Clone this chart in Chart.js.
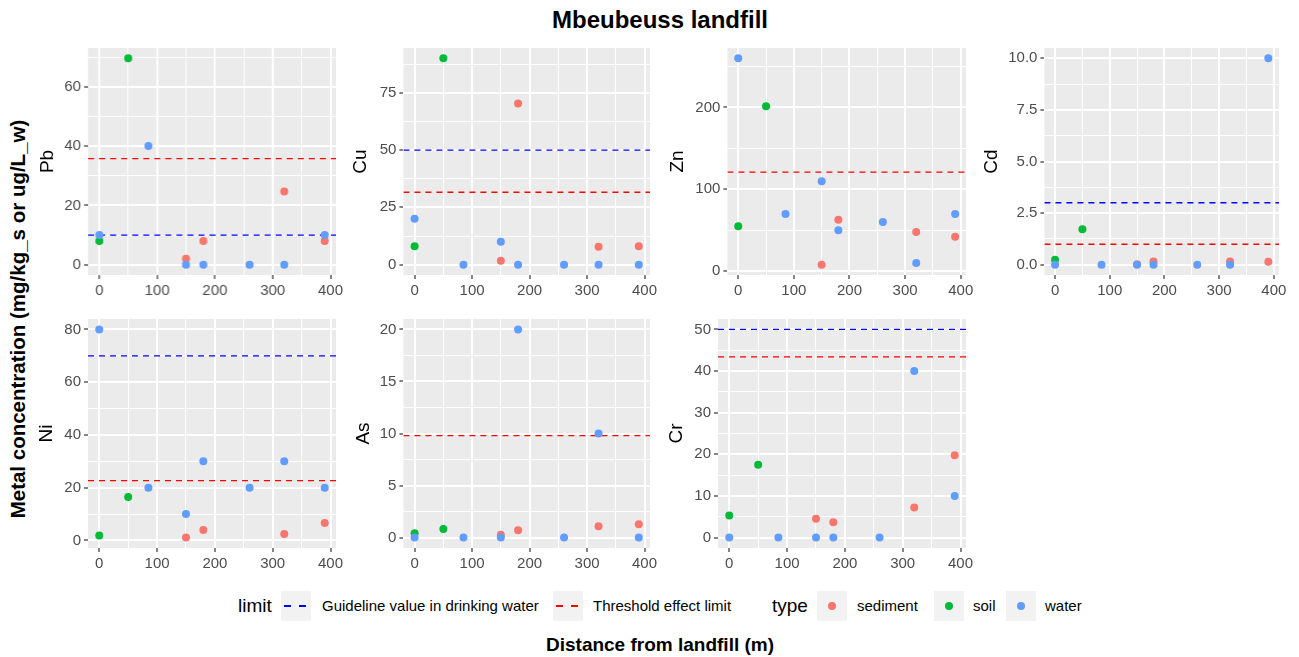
<!DOCTYPE html>
<html>
<head>
<meta charset="utf-8">
<title>Mbeubeuss landfill</title>
<script src="https://cdn.jsdelivr.net/npm/chart.js@4.4.0/dist/chart.umd.min.js"></script>
<style>
  body { margin: 0; background: #fff; font-family: 'Liberation Sans', Arial, sans-serif; }
  #fig { position: relative; width: 1299px; height: 657px; overflow: hidden; background: #fff; }
  #fig canvas { position: absolute; }
  .txt { position: absolute; white-space: nowrap; color: #000; }
  .main-title { left: 360px; width: 600px; top: 8px; text-align: center; font-size: 24px; line-height: 24px; font-weight: bold; }
  .y-title { left: -282px; top: 308px; width: 600px; text-align: center; font-size: 20.5px; line-height: 22px; font-weight: bold; transform: rotate(-90deg); }
  .x-title { left: 360px; width: 600px; top: 635px; text-align: center; font-size: 19px; line-height: 20px; font-weight: bold; }
  .leg { top: 591px; height: 30px; line-height: 30px; }
  .leg-title { font-size: 19px; }
  .leg-label { font-size: 15px; }
  .key { position: absolute; top: 591px; width: 30px; height: 30px; background: #f2f2f2; }
  .key .dash { position: absolute; top: 14px; width: 7px; height: 2px; }
  .key .dot { position: absolute; left: 11px; top: 11px; width: 8px; height: 8px; border-radius: 50%; }
</style>
</head>
<body>
<div id="fig">
  <div class="txt main-title">Mbeubeuss landfill</div>
  <div class="txt y-title">Metal concentration (mg/kg_s or ug/L_w)</div>
  <div class="txt x-title">Distance from landfill (m)</div>

  <div class="txt leg leg-title" style="left:238px">limit</div>
  <div class="key" style="left:281px">
    <div class="dash" style="left:3px;background:#0000ff"></div>
    <div class="dash" style="left:18px;background:#0000ff"></div>
  </div>
  <div class="txt leg leg-label" style="left:322px">Guideline value in drinking water</div>
  <div class="key" style="left:553px">
    <div class="dash" style="left:3px;background:#ff0000"></div>
    <div class="dash" style="left:18px;background:#ff0000"></div>
  </div>
  <div class="txt leg leg-label" style="left:593px">Threshold effect limit</div>

  <div class="txt leg leg-title" style="left:772px">type</div>
  <div class="key" style="left:817px"><div class="dot" style="background:#F8766D"></div></div>
  <div class="txt leg leg-label" style="left:857px">sediment</div>
  <div class="key" style="left:934px"><div class="dot" style="background:#00BA38"></div></div>
  <div class="txt leg leg-label" style="left:973px">soil</div>
  <div class="key" style="left:1006px"><div class="dot" style="background:#619CFF"></div></div>
  <div class="txt leg leg-label" style="left:1045px">water</div>
</div>

<script>
// sampling distances (m) for each sample type
const sedimentDist = [150, 180, 320, 390];
const soilDist     = [0, 50];
const waterDist    = [0, 85, 150, 180, 260, 320, 390];

// concentrations, one per distance above
const sediment = {
  Pb: [2, 8, 24.7, 8],
  Cu: [1.7, 70.3, 7.8, 8],
  Zn: [8, 63, 48, 42],
  Cd: [0.02, 0.15, 0.15, 0.14],
  Ni: [1.1, 4, 2.5, 6.6],
  As: [0.28, 0.7, 1.1, 1.28],
  Cr: [4.5, 3.7, 7.2, 19.8],
};
const soil = {
  Pb: [8, 69.6],
  Cu: [8, 90],
  Zn: [55, 201.6],
  Cd: [0.24, 1.72],
  Ni: [1.9, 16.5],
  As: [0.41, 0.83],
  Cr: [5.3, 17.5],
};
const water = {
  Pb: [10, 40, 0, 0, 0, 0, 10],
  Cu: [20, 0, 10, 0, 0, 0, 0],
  Zn: [260, 70, 110, 50, 60, 10, 70],
  Cd: [0, 0, 0, 0, 0, 0, 10],
  Ni: [80, 20, 10, 30, 20, 30, 20],
  As: [0, 0, 0, 20, 0, 10, 0],
  Cr: [0, 0, 0, 0, 0, 40, 10],
};

// reference limits (null = no value)
const guideline = { Pb: 10, Cu: 50, Zn: null, Cd: 3, Ni: 70, As: null, Cr: 50 };
const threshold = { Pb: 35.8, Cu: 31.6, Zn: 121, Cd: 0.99, Ni: 22.7, As: 9.79, Cr: 43.4 };

// axis breaks
const xBreaks = [0, 100, 200, 300, 400];
const yBreaks = {
  Pb: [0, 20, 40, 60],
  Cu: [0, 25, 50, 75],
  Zn: [0, 100, 200],
  Cd: [0, 2.5, 5, 7.5, 10],
  Ni: [0, 20, 40, 60, 80],
  As: [0, 5, 10, 15, 20],
  Cr: [0, 10, 20, 30, 40, 50],
};

const COLORS = { sediment: "#F8766D", soil: "#00BA38", water: "#619CFF" };

/* ── Panel placement: plot box [left, top, right, bottom] and y-title gap ── */
const PANELS = [
  { metal: "Pb", box: [88, 46, 336, 275],   gap: 40.5 },
  { metal: "Cu", box: [403, 46, 650, 275],  gap: 43 },
  { metal: "Zn", box: [727, 46, 966, 275],  gap: 50 },
  { metal: "Cd", box: [1044, 46, 1279, 275], gap: 53 },
  { metal: "Ni", box: [88, 317, 336, 548],  gap: 41.6 },
  { metal: "As", box: [403, 317, 650, 548], gap: 40 },
  { metal: "Cr", box: [718, 317, 966, 548], gap: 41.6 },
];

const PAD_T = 10, PAD_R = 14, X_AXIS_H = 30, TITLE_SIZE = 19;

Chart.defaults.font.family = "'Liberation Sans', Arial, sans-serif";

// grey panel background, like ggplot's theme_grey
const panelBg = {
  id: "panelBg",
  beforeDraw(chart) {
    const { ctx, chartArea: a } = chart;
    ctx.save();
    ctx.fillStyle = "#EBEBEB";
    ctx.fillRect(a.left, a.top, a.right - a.left, a.bottom - a.top);
    ctx.restore();
  },
};

// ggplot-style continuous range: data range padded by 5% each side
function expandRange(vals) {
  const lo = Math.min(...vals), hi = Math.max(...vals);
  const pad = (hi - lo) * 0.05;
  return [lo - pad, hi + pad];
}

// major breaks plus the minor lines halfway between them
function withMinors(majors, min, max) {
  const step = majors[1] - majors[0];
  const all = [majors[0] - step / 2, ...majors, ...majors.map(v => v + step / 2)];
  return all.filter(v => v >= min && v <= max).sort((a, b) => a - b);
}

function gridStyle(majors) {
  const isMajor = c => c.tick && majors.includes(c.tick.value);
  return {
    color: "#FFFFFF",
    lineWidth: c => (isMajor(c) ? 2 : 1),
    drawTicks: true,
    tickLength: 4,
    tickWidth: 1.2,
    tickColor: c => (isMajor(c) ? "#333333" : "rgba(0,0,0,0)"),
  };
}

function pts(xs, ys) {
  return xs.map((x, i) => ({ x, y: ys[i] }));
}

const [xMin, xMax] = expandRange([...sedimentDist, ...soilDist, ...waterDist]);

function makePanel({ metal, box, gap }) {
  const [bl, bt, br, bb] = box;
  const yW = gap + (TITLE_SIZE * 1.2) / 2;

  const canvas = document.createElement("canvas");
  const w = yW + (br - bl) + PAD_R;
  const h = PAD_T + (bb - bt) + X_AXIS_H;
  canvas.width = w;
  canvas.height = h;
  canvas.style.left = (bl - yW) + "px";
  canvas.style.top = (bt - PAD_T) + "px";
  canvas.style.width = w + "px";
  canvas.style.height = h + "px";
  document.getElementById("fig").appendChild(canvas);

  const vals = [...sediment[metal], ...soil[metal], ...water[metal], guideline[metal], threshold[metal]]
    .filter(v => v !== null);
  const [yMin, yMax] = expandRange(vals);

  const yMaj = yBreaks[metal];
  const yStep = yMaj[1] - yMaj[0];
  const yDigits = Number.isInteger(yStep) ? 0 : 1;
  const yGrid = withMinors(yMaj, yMin, yMax);
  const xGrid = withMinors(xBreaks, xMin, xMax);

  const hline = (v, color, order) => ({
    data: [{ x: xMin, y: v }, { x: xMax, y: v }],
    showLine: true,
    borderColor: color,
    borderWidth: 1.3,
    borderDash: [6, 5],
    pointRadius: 0,
    fill: false,
    order,
  });
  const dots = (xs, ys, color, order) => ({
    data: pts(xs, ys),
    backgroundColor: color,
    borderWidth: 0,
    pointRadius: 4,
    order,
  });

  const datasets = [
    dots(waterDist, water[metal], COLORS.water, 1),
    dots(soilDist, soil[metal], COLORS.soil, 2),
    dots(sedimentDist, sediment[metal], COLORS.sediment, 3),
    hline(threshold[metal], "#FF0000", 4),
  ];
  if (guideline[metal] !== null) datasets.push(hline(guideline[metal], "#0000FF", 5));

  new Chart(canvas, {
    type: "scatter",
    data: { datasets },
    options: {
      responsive: false,
      animation: false,
      devicePixelRatio: 1,
      layout: { padding: { left: 0, top: PAD_T, right: PAD_R, bottom: 0 } },
      plugins: { legend: { display: false }, tooltip: { enabled: false } },
      scales: {
        x: {
          type: "linear",
          min: xMin,
          max: xMax,
          afterBuildTicks: s => { s.ticks = xGrid.map(v => ({ value: v })); },
          afterFit: s => { s.height = X_AXIS_H; },
          grid: gridStyle(xBreaks),
          border: { display: false },
          ticks: {
            autoSkip: false, maxRotation: 0, padding: 3,
            color: "#4D4D4D", font: { size: 15 },
            callback: v => (xBreaks.includes(v) ? String(v) : ""),
          },
        },
        y: {
          type: "linear",
          min: yMin,
          max: yMax,
          afterBuildTicks: s => { s.ticks = yGrid.map(v => ({ value: v })); },
          afterFit: s => { s.width = yW; },
          grid: gridStyle(yMaj),
          border: { display: false },
          ticks: {
            autoSkip: false, padding: 3,
            color: "#4D4D4D", font: { size: 15 },
            callback: v => (yMaj.includes(v) ? v.toFixed(yDigits) : ""),
          },
          title: {
            display: true,
            text: metal,
            color: "#000000",
            font: { size: TITLE_SIZE },
            padding: { top: 0, bottom: 0 },
          },
        },
      },
    },
    plugins: [panelBg],
  });
}

PANELS.forEach(makePanel);
</script>
</body>
</html>
